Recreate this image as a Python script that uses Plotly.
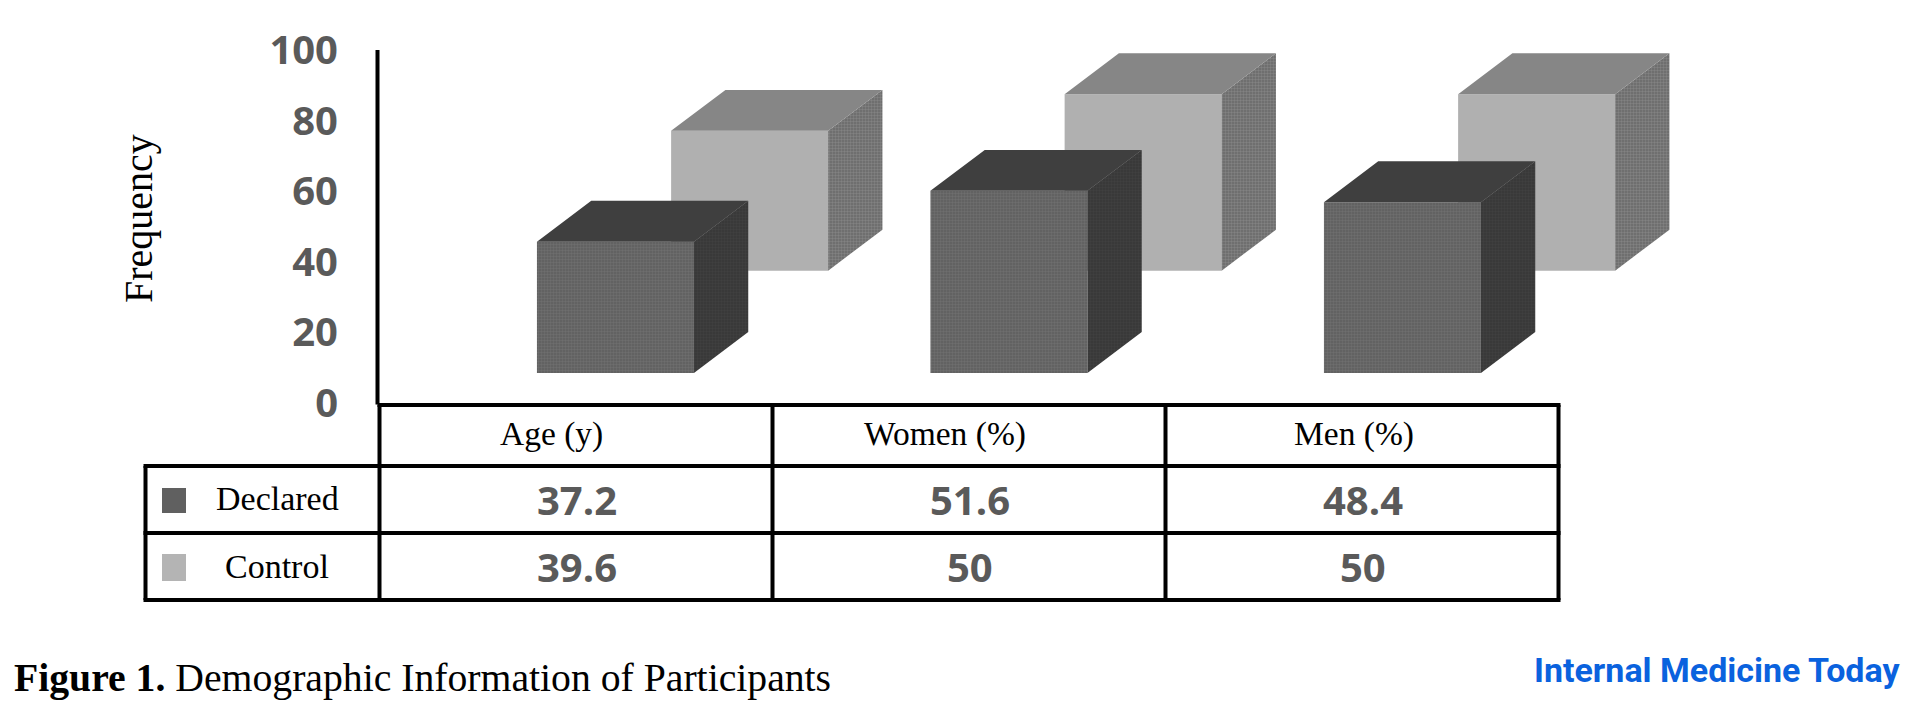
import plotly.graph_objects as go

categories = ["Age (y)", "Women (%)", "Men (%)"]
series_names = ["Declared", "Control"]
declared = [37.2, 51.6, 48.4]
control = [39.6, 50, 50]
y_ticks = [0, 20, 40, 60, 80, 100]

W, H = 1905, 718
UX, UY = 393.5, 3.53      # pixels per category / per value unit
X0_PX, Y0_PX = 575.5, 403  # pixel of category 0 / value 0
GREY_TEXT = "#5a5a5a"
SERIF = "Liberation Serif"
SANS = "Open Sans"

def fx(px):
    return px / W

def fy(py):
    return 1 - py / H

fig = go.Figure()

styles = [
    dict(vals=control, base=37.5, left=0.243, front="#b0b0b0", top="#868686",
         side=("#696969", "#828282")),
    dict(vals=declared, base=8.5, left=-0.098, front=("#5e5e5e", "#6e6e6e"), top="#3f3f3f",
         side=("#363636", "#404040")),
]
BAR_W, DX, DY = 0.399, 0.138, 11.6

def dots(bg, fg):
    return dict(shape=".", bgcolor=bg, fgcolor=fg, size=3, solidity=0.5, fillmode="replace")

# front faces
for s, name in zip(styles, ["Control", "Declared"]):
    marker = dict(line=dict(width=0))
    if isinstance(s["front"], tuple):
        marker["color"] = s["front"][0]
        marker["pattern"] = dots(*s["front"])
    else:
        marker["color"] = s["front"]
    fig.add_trace(go.Bar(
        x=list(range(len(categories))), y=s["vals"], base=[s["base"]] * len(categories),
        offset=s["left"], width=BAR_W, name=name,
        marker=marker, hoverinfo="skip", showlegend=False,
    ))

# top and side faces
for s in styles:
    tx, ty, sx, sy = [], [], [], []
    for i, v in enumerate(s["vals"]):
        l = i + s["left"]
        r = l + BAR_W
        b = s["base"]
        t = b + v
        tx += [l, r, r + DX, l + DX, l, None]
        ty += [t, t, t + DY, t + DY, t, None]
        sx += [r, r + DX, r + DX, r, r, None]
        sy += [b, b + DY, t + DY, t, b, None]
    fig.add_trace(go.Scatter(x=sx, y=sy, mode="lines", fill="toself", fillcolor=s["side"][0],
                             fillpattern=dots(*s["side"]),
                             line=dict(width=0), hoverinfo="skip", showlegend=False))
    fig.add_trace(go.Scatter(x=tx, y=ty, mode="lines", fill="toself", fillcolor=s["top"],
                             line=dict(width=0), hoverinfo="skip", showlegend=False))

# value axis line (drawn from the tick range)
LW = 4
shapes = [dict(type="line", xref="paper", yref="y", x0=fx(377.5), x1=fx(377.5),
               y0=min(y_ticks) - 0.4, y1=max(y_ticks), line=dict(color="black", width=LW))]

# table grid
col_px = [379.5, 772.5, 1165.5, 1558.5]
row_px = [405, 466, 533, 600]
left_px = 145.5
def hline(py, x0, x1):
    return dict(type="line", xref="paper", yref="paper", x0=fx(x0), x1=fx(x1), y0=fy(py), y1=fy(py),
                line=dict(color="black", width=LW))
def vline(px, y0, y1):
    return dict(type="line", xref="paper", yref="paper", x0=fx(px), x1=fx(px), y0=fy(y0), y1=fy(y1),
                line=dict(color="black", width=LW))
shapes.append(hline(row_px[0], col_px[0] - 2, col_px[-1] + 2))
for py in row_px[1:]:
    shapes.append(hline(py, left_px - 2, col_px[-1] + 2))
for px in col_px:
    shapes.append(vline(px, row_px[0], row_px[-1]))
shapes.append(vline(left_px, row_px[1], row_px[-1]))

# legend swatches
shapes.append(dict(type="rect", xref="paper", yref="paper", x0=fx(162), x1=fx(186), y0=fy(488), y1=fy(513),
                   fillcolor="#606060", line=dict(width=0)))
shapes.append(dict(type="rect", xref="paper", yref="paper", x0=fx(162), x1=fx(186), y0=fy(554), y1=fy(581),
                   fillcolor="#b4b4b4", line=dict(width=0)))

def note(text, px, py, size, color="black", family=SERIF, weight="normal", anchor="center", angle=0):
    return dict(text=text, x=fx(px), y=fy(py), xref="paper", yref="paper", xanchor=anchor, yanchor="middle",
                showarrow=False, textangle=angle,
                font=dict(size=size, color=color, family=family, weight=weight))

annotations = [
    note("Frequency", 138, 219, 40, angle=-90),
    note("<b>Figure 1.</b> Demographic Information of Participants", 12, 678, 39.7, anchor="left"),
    note("Internal Medicine Today", 1717, 670, 34, color="#0a62de", family="Roboto", weight="bold"),
]
header_px = [551, 945, 1354]
for c, px in zip(categories, header_px):
    annotations.append(note(c, px, 434, 33.5))
annotations.append(note(series_names[0], 277, 498, 34))
annotations.append(note(series_names[1], 277, 566, 34))
value_px = [577, 970, 1363]
for v, px in zip(declared, value_px):
    annotations.append(note(str(v), px, 499, 40, color=GREY_TEXT, family=SANS, weight="bold"))
for v, px in zip(control, value_px):
    annotations.append(note(str(v), px, 566, 40, color=GREY_TEXT, family=SANS, weight="bold"))

fig.update_layout(
    width=W, height=H, margin=dict(l=0, r=0, t=0, b=0), barmode="overlay",
    paper_bgcolor="white", plot_bgcolor="white", showlegend=False,
    shapes=shapes, annotations=annotations,
    xaxis=dict(range=[-X0_PX / UX, (W - X0_PX) / UX], visible=False, fixedrange=True),
    yaxis=dict(range=[(Y0_PX - H) / UY, Y0_PX / UY], anchor="free", position=378 / W,
               tickmode="array", tickvals=y_ticks, showgrid=False, zeroline=False, showline=False,
               ticks="", ticklabelstandoff=40, fixedrange=True,
               tickfont=dict(size=40, color=GREY_TEXT, family=SANS, weight="bold")),
)

fig.write_html("out.html", config={"displayModeBar": False},
               post_script="document.body.style.margin='0';document.body.style.overflow='hidden';")
